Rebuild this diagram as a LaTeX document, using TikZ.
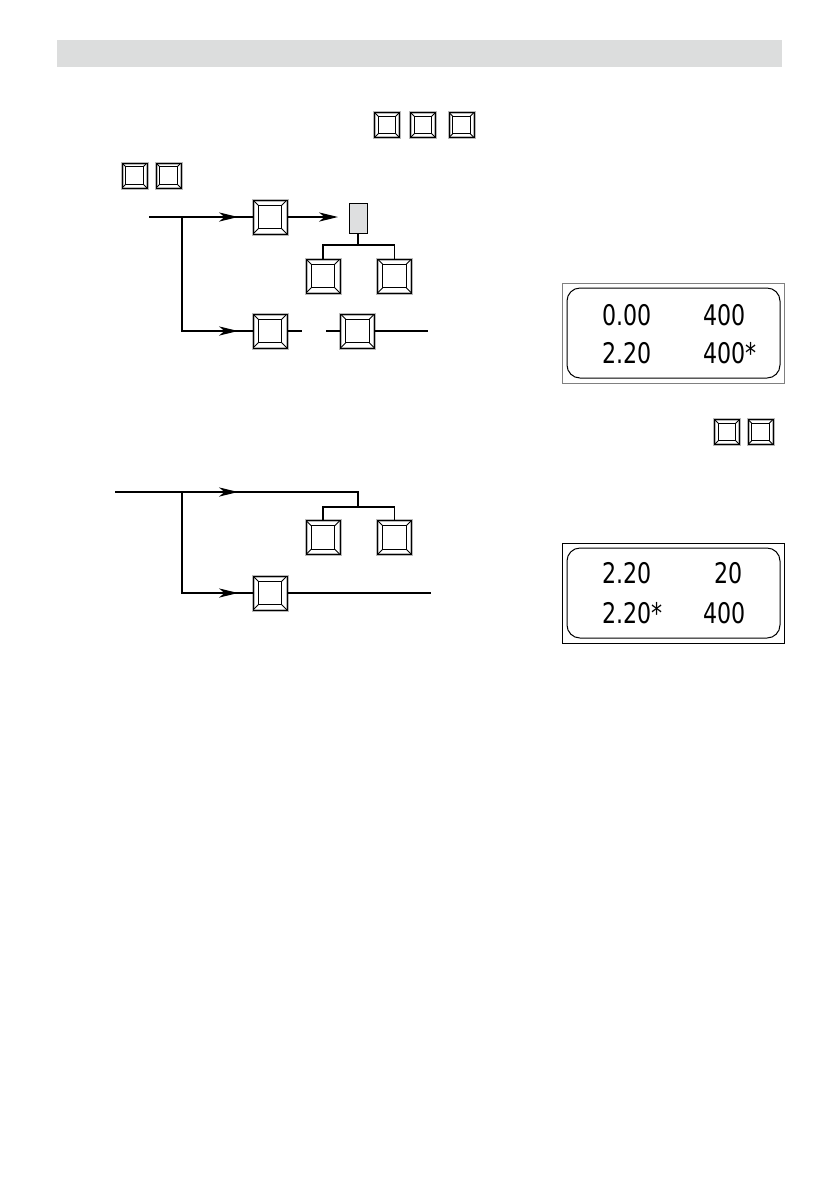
\documentclass[tikz,border=0pt]{standalone}
\usepackage{fontspec}
\usepackage{tikz}
\usetikzlibrary{arrows.meta, calc, positioning}
\newfontfamily\lcdfont[FakeStretch=0.78]{DejaVu Sans}
\definecolor{bargray}{RGB}{220,221,221}
\definecolor{cellgray}{RGB}{222,223,224}
\tikzset{
  keycap/.style 2 args={draw, line width=0.45pt, minimum width=#1, minimum height=#1, inner sep=0pt,
    preaction={draw=gray!55, line width=1.5pt},
    path picture={
      \path (path picture bounding box.north west) coordinate (kn)
            (path picture bounding box.south east) coordinate (ks)
            (path picture bounding box.north east) coordinate (ke)
            (path picture bounding box.south west) coordinate (kw);
      \draw[line width=0.45pt] ($(kn)+(#2,-#2)$) rectangle ($(ks)+(-#2,#2)$);
      \draw[line width=0.45pt] (kn) -- ++(#2,-#2) (ks) -- ++(-#2,#2)
                               (ke) -- ++(-#2,-#2) (kw) -- ++(#2,#2);
    }},
  keybig/.style={keycap={17pt}{2.6pt}},
  keysmall/.style={keycap={12.5pt}{1.9pt}},
  cell/.style={draw, line width=0.45pt, fill=cellgray, minimum width=9pt, minimum height=15pt, inner sep=0pt},
  wire/.style={line width=0.6pt},
  arrowwire/.style={wire, -{Stealth[length=9.5pt, width=4.6pt, inset=2.8pt]}},
  lcd/.style={font=\lcdfont\fontsize{14.2}{16}\selectfont, inner sep=0pt},
}
\begin{document}
\begin{tikzpicture}[x=0.5pt, y=-0.5pt]
  \useasboundingbox (0,0) rectangle (839,1191);
  \fill[bargray] (57,40) rectangle (782,67); % header bar

  % keys in the text lines
  \node[keysmall] (t1) at (387,125) {};
  \node[keysmall] (t2) at (423,125) {};
  \node[keysmall] (t3) at (461.5,125) {};
  \node[keysmall] (s1) at (134.5,175.5) {};
  \node[keysmall] (s2) at (168.5,175.5) {};
  \node[keysmall] (r1) at (727,432) {};
  \node[keysmall] (r2) at (760.5,432) {};

  % first sequence
  \coordinate (in1) at (149,217);
  \coordinate (br1) at (182,217);
  \coordinate (tipA) at (238,217);
  \node[keybig] (keyA) at (270,217) {};
  \node[cell] (blink) at (358,218) {};
  \coordinate (tipB) at (338,217);
  \coordinate (fork1) at (358,245);
  \node[keybig] (keyB) at (323,276) {};
  \node[keybig] (keyC) at (394.5,276) {};
  \coordinate (tipD) at (238,331);
  \node[keybig] (keyD) at (270,331) {};
  \coordinate (gapL) at (302,331);
  \coordinate (gapR) at (326,331);
  \node[keybig] (keyE) at (357.5,331) {};
  \coordinate (out1) at (428,331);

  \draw[wire] (in1) -- (keyA.west);
  \draw[arrowwire] (in1) -- (tipA);
  \draw[arrowwire] (keyA.east) -- (tipB);
  \draw[wire] (blink.south) -- (fork1);
  \draw[wire] (keyB.north) |- (fork1) -| (keyC.north);
  \draw[wire] (br1) |- (keyD.west);
  \draw[arrowwire] (br1) |- (tipD);
  \draw[wire] (keyD.east) -- (gapL);
  \draw[wire] (gapR) -- (keyE.west);
  \draw[wire] (keyE.east) -- (out1);

  % second sequence
  \coordinate (in2) at (115,492);
  \coordinate (br2) at (182,492);
  \coordinate (tipF) at (238,492);
  \coordinate (turn2) at (358,492);
  \coordinate (fork2) at (358,507);
  \node[keybig] (keyF) at (323,537.5) {};
  \node[keybig] (keyG) at (394.5,537.5) {};
  \coordinate (tipH) at (238,593);
  \node[keybig] (keyH) at (270,593) {};
  \coordinate (out2) at (431,593);

  \draw[wire] (in2) -- (turn2) -- (fork2);
  \draw[arrowwire] (in2) -- (tipF);
  \draw[wire] (keyF.north) |- (fork2) -| (keyG.north);
  \draw[wire] (br2) |- (keyH.west);
  \draw[arrowwire] (br2) |- (tipH);
  \draw[wire] (keyH.east) -- (out2);

  % displays
  \draw[gray, line width=0.5pt] (562,283) rectangle (784,383);
  \draw[line width=0.5pt, rounded corners=6.5pt] (567,288) rectangle (780,378);
  \node[lcd, anchor=base west] (d1a) at (602,325) {0.00};
  \node[lcd, anchor=base west] (d1b) at (703,325) {400};
  \node[lcd, anchor=base west] (d1c) at (602,363) {2.20};
  \node[lcd, anchor=base west] (d1d) at (703,363) {400*};

  \draw[line width=0.5pt] (562,543) rectangle (784,643);
  \draw[line width=0.5pt, rounded corners=6.5pt] (567,548) rectangle (780,638);
  \node[lcd, anchor=base west] (d2a) at (602,583) {2.20};
  \node[lcd, anchor=base east] (d2b) at (743,583) {20};
  \node[lcd, anchor=base west] (d2c) at (602,623) {2.20*};
  \node[lcd, anchor=base west] (d2d) at (703,623) {400};
\end{tikzpicture}
\end{document}
